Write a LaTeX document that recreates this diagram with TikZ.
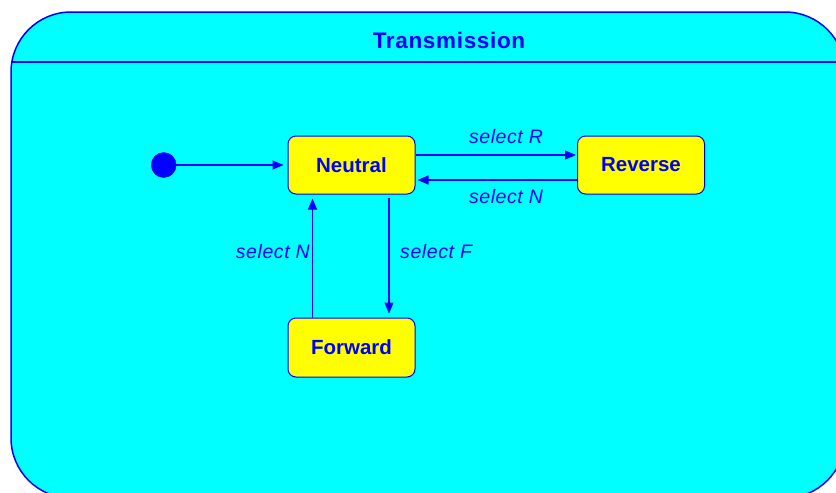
\documentclass[tikz,border=0pt]{standalone}
\usepackage{fontspec}
\setmainfont{Liberation Sans}
\newfontfamily\titlefont[LetterSpace=3]{Liberation Sans}
\newfontfamily\lblfont[LetterSpace=3]{Liberation Sans}
\usetikzlibrary{arrows.meta}
\definecolor{cy}{RGB}{0,255,255}
\definecolor{bl}{RGB}{0,0,255}
\definecolor{yl}{RGB}{255,255,0}
\begin{document}
\begin{tikzpicture}[x=1pt,y=-1pt,
  state/.style={draw=bl, fill=yl, rounded corners=8pt, line width=1pt, minimum width=127pt, minimum height=58pt, font=\fontsize{20.5}{20.5}\selectfont\bfseries, text=bl, inner sep=0pt},
  lbl/.style={font=\lblfont\fontsize{19.5}{19.5}\selectfont\itshape, text=bl, inner sep=0pt},
  tr/.style={draw=bl, line width=1.1pt, -{Triangle[length=11pt,width=9pt]}}]
\useasboundingbox (0,0) rectangle (836,493);
\begin{scope}
\clip (0,0) rectangle (836,493);
\draw[bl, fill=cy, line width=1.5pt, rounded corners=60pt] (11,12) rectangle (845,498);
\draw[bl, line width=1.2pt] (11,62) -- (845,62);
\end{scope}
\node[font=\titlefont\fontsize{22.5}{22.5}\selectfont\bfseries, text=bl] (title) at (449,40.5) {Transmission};
\node[state] (n) at (351.5,165) {Neutral};
\node[state] (r) at (641,165) {Reverse};
\node[state, minimum height=59pt] (f) at (351.5,347.5) {Forward};
\node[circle, draw=bl, fill=bl, minimum size=25pt, inner sep=0pt] (init) at (163.7,165) {};
\draw[tr] (init) -- ([xshift=-4pt]n.west);
\draw[tr] ([yshift=10pt]n.east) -- ([yshift=10pt,xshift=-1pt]r.west);
\draw[tr] ([yshift=-15pt]r.west) -- ([yshift=-15pt,xshift=2pt]n.east);
\draw[tr] ([xshift=-39pt]f.north) -- ([xshift=-39pt,yshift=-4pt]n.south);
\draw[tr] ([xshift=37.5pt,yshift=-3pt]n.south) -- ([xshift=37.5pt,yshift=4pt]f.north);
\node[lbl] (l1) at (506,137) {select R};
\node[lbl] (l2) at (506,197) {select N};
\node[lbl, anchor=east] (l3) at (310,251.7) {select N};
\node[lbl, anchor=west] (l4) at (400,251.7) {select F};
\end{tikzpicture}
\end{document}
